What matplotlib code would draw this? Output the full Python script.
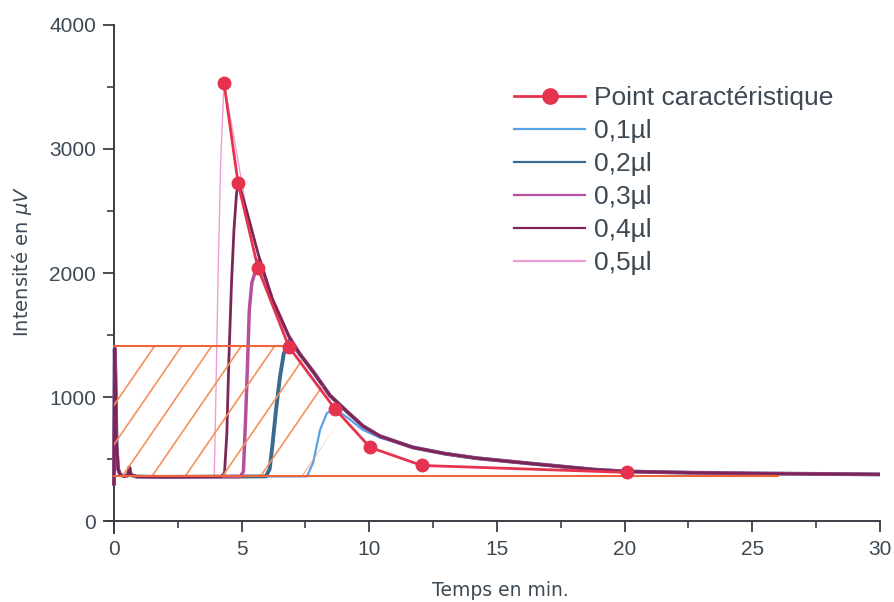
import numpy as np
import matplotlib
matplotlib.use("Agg")
import matplotlib.pyplot as plt
from matplotlib.lines import Line2D
from matplotlib.patches import Polygon

# ---------------- data ----------------
# characteristic points (peak of each injection + tail points)
char_x = [4.31, 4.86, 5.64, 6.85, 8.66, 10.03, 12.06, 20.1]
char_y = [3532, 2726, 2040, 1405, 903, 594, 448, 392]

# common start: injection spike near t=0 then baseline
start_x = [0.0, 0.03, 0.06, 0.10, 0.16, 0.25, 0.40, 0.55, 0.60, 0.66, 0.90, 2.0, 3.0]
start_y = [300, 1390, 1150, 620, 420, 372, 362, 368, 432, 372, 358, 356, 357]

# common decay envelope
env_x = [5.2, 5.64, 6.2, 6.85, 7.3, 7.8, 8.46, 9.13, 9.75, 10.42, 11.7, 13.0,
         14.2, 16.2, 18.8, 20.0, 22.5, 25.0, 27.5, 30.0]
env_y = [2500, 2160, 1790, 1490, 1340, 1205, 1012, 882, 766, 684, 594, 542,
         507, 466, 415, 400, 390, 384, 380, 376]

# rise part of each series (up to its peak)
rise_05_x = [3.93, 4.00, 4.08, 4.18, 4.31, 4.65, 5.0]
rise_05_y = [362, 1100, 2000, 2900, 3532, 3150, 2740]
rise_04_x = [4.20, 4.33, 4.42, 4.50, 4.60, 4.70, 4.80, 4.88]
rise_04_y = [358, 390, 700, 1300, 1900, 2350, 2640, 2730]
rise_03_x = [4.95, 5.07, 5.15, 5.22, 5.30, 5.40, 5.68]
rise_03_y = [358, 400, 800, 1200, 1700, 1920, 2110]
rise_02_x = [5.95, 6.10, 6.20, 6.35, 6.50, 6.65, 6.88]
rise_02_y = [360, 420, 600, 900, 1160, 1350, 1460]
rise_01_x = [7.56, 7.80, 8.07, 8.34, 8.66, 9.13, 9.75, 10.42]
rise_01_y = [360, 470, 734, 871, 903, 836, 735, 672]

labels = ["Point caractéristique", "0,1µl", "0,2µl", "0,3µl", "0,4µl", "0,5µl"]
colors = {"char": "#e5334f", "0,1µl": "#5aa2e6", "0,2µl": "#3b6a90",
          "0,3µl": "#b5509c", "0,4µl": "#7d2656", "0,5µl": "#eea0d6"}

# hatched zone (orange)
rect_top = 1414
rect_right = 6.9
base_level = 365
base_end = 26.0
hatch_top_x = [1.6, 2.66, 3.84, 5.0, 6.3, 7.76, 9.25, 10.89]
zone_x = [0.0, 0.0, 6.9, 7.8, 8.46, 8.95, 7.4]
zone_y = [365, 1414, 1414, 1194, 1000, 850, 365]

# ---------------- figure ----------------
fig = plt.figure(figsize=(8.94, 6.02), dpi=100)
ax = fig.add_axes([0.1189, 0.1139, 0.8654, 0.8446])
ax.set_xlim(-0.3, 30)
ax.set_ylim(-100, 4000)

txt = "#3d4954"
orange = "#f0643a"
hatch_c = "#f3925a"


def build(rx, ry):
    peak = rx[-1]
    xs = list(start_x) + list(rx)
    ys = list(start_y) + list(ry)
    for x, y in zip(env_x, env_y):
        if x > peak:
            xs.append(x)
            ys.append(y)
    return xs, ys


series = [("0,5µl", rise_05_x, rise_05_y, 1.0, 2),
          ("0,1µl", rise_01_x, rise_01_y, 1.6, 3),
          ("0,2µl", rise_02_x, rise_02_y, 2.8, 4),
          ("0,3µl", rise_03_x, rise_03_y, 2.5, 5),
          ("0,4µl", rise_04_x, rise_04_y, 2.0, 6)]
for name, rx, ry, lw, z in series:
    xs, ys = build(rx, ry)
    ax.plot(xs, ys, color=colors[name], lw=lw, zorder=z)

# orange zone
ax.plot([0, rect_right], [rect_top, rect_top], color=orange, lw=1.5, zorder=7)
ax.plot([0, base_end], [base_level, base_level], color=orange, lw=1.5, zorder=7)
zone = Polygon(np.column_stack([zone_x, zone_y]), closed=True,
               facecolor="none", edgecolor="none")
ax.add_patch(zone)
slope = 300.0
for xt in hatch_top_x:
    dx = (rect_top - base_level) / slope
    ln, = ax.plot([xt - dx - 1, xt + 1], [base_level - slope, rect_top + slope],
                  color=hatch_c, lw=1.2, zorder=6)
    ln.set_clip_path(zone)

# characteristic points
ax.plot(char_x, char_y, color=colors["char"], lw=2.0, marker="o", ms=9,
        zorder=10)

# axes styling
for s in ["top", "right"]:
    ax.spines[s].set_visible(False)
ax.spines["left"].set_position(("data", 0))
ax.spines["bottom"].set_position(("data", 0))
for s in ["left", "bottom"]:
    ax.spines[s].set_color("#3a3f45")
    ax.spines[s].set_linewidth(1.4)

ax.set_xticks([0, 5, 10, 15, 20, 25, 30])
ax.set_xticks(np.arange(2.5, 30, 5), minor=True)
ax.set_yticks([0, 1000, 2000, 3000, 4000])
ax.set_yticks([500, 1500, 2500, 3500], minor=True)
ax.tick_params(which="major", direction="out", length=8, width=1.3,
               color="#3a3f45", labelcolor=txt, labelsize=15)
ax.tick_params(which="minor", direction="out", length=5, width=1.2,
               color="#3a3f45")
ax.tick_params(axis="y", pad=5)
ax.tick_params(axis="x", pad=6)
for lab in ax.get_xticklabels() + ax.get_yticklabels():
    lab.set_family(["Liberation Sans"])

fig.text(22 / 894, 1 - 262 / 602, r"Intensité en $\mu V$", rotation=90,
         ha="center", va="center", fontsize=14, color=txt,
         family="DejaVu Sans")
fig.text(500 / 894, 1 - 590 / 602, "Temps en min.", ha="center", va="center",
         fontsize=13.5, color=txt, family="DejaVu Sans")

handles = [Line2D([], [], color=colors["char"], lw=2.0, marker="o", ms=11)]
for name in labels[1:]:
    handles.append(Line2D([], [], color=colors[name], lw=1.6))
leg = ax.legend(handles, labels, loc="upper left",
                bbox_to_anchor=(514 / 894, 1 - 86 / 602),
                bbox_transform=fig.transFigure, frameon=False,
                prop={"family": "Liberation Sans", "size": 19},
                handlelength=2.7, handletextpad=0.34, labelspacing=0.34,
                borderpad=0, borderaxespad=0)
for t in leg.get_texts():
    t.set_color(txt)

fig.savefig("out.png", dpi=100, facecolor="white")
